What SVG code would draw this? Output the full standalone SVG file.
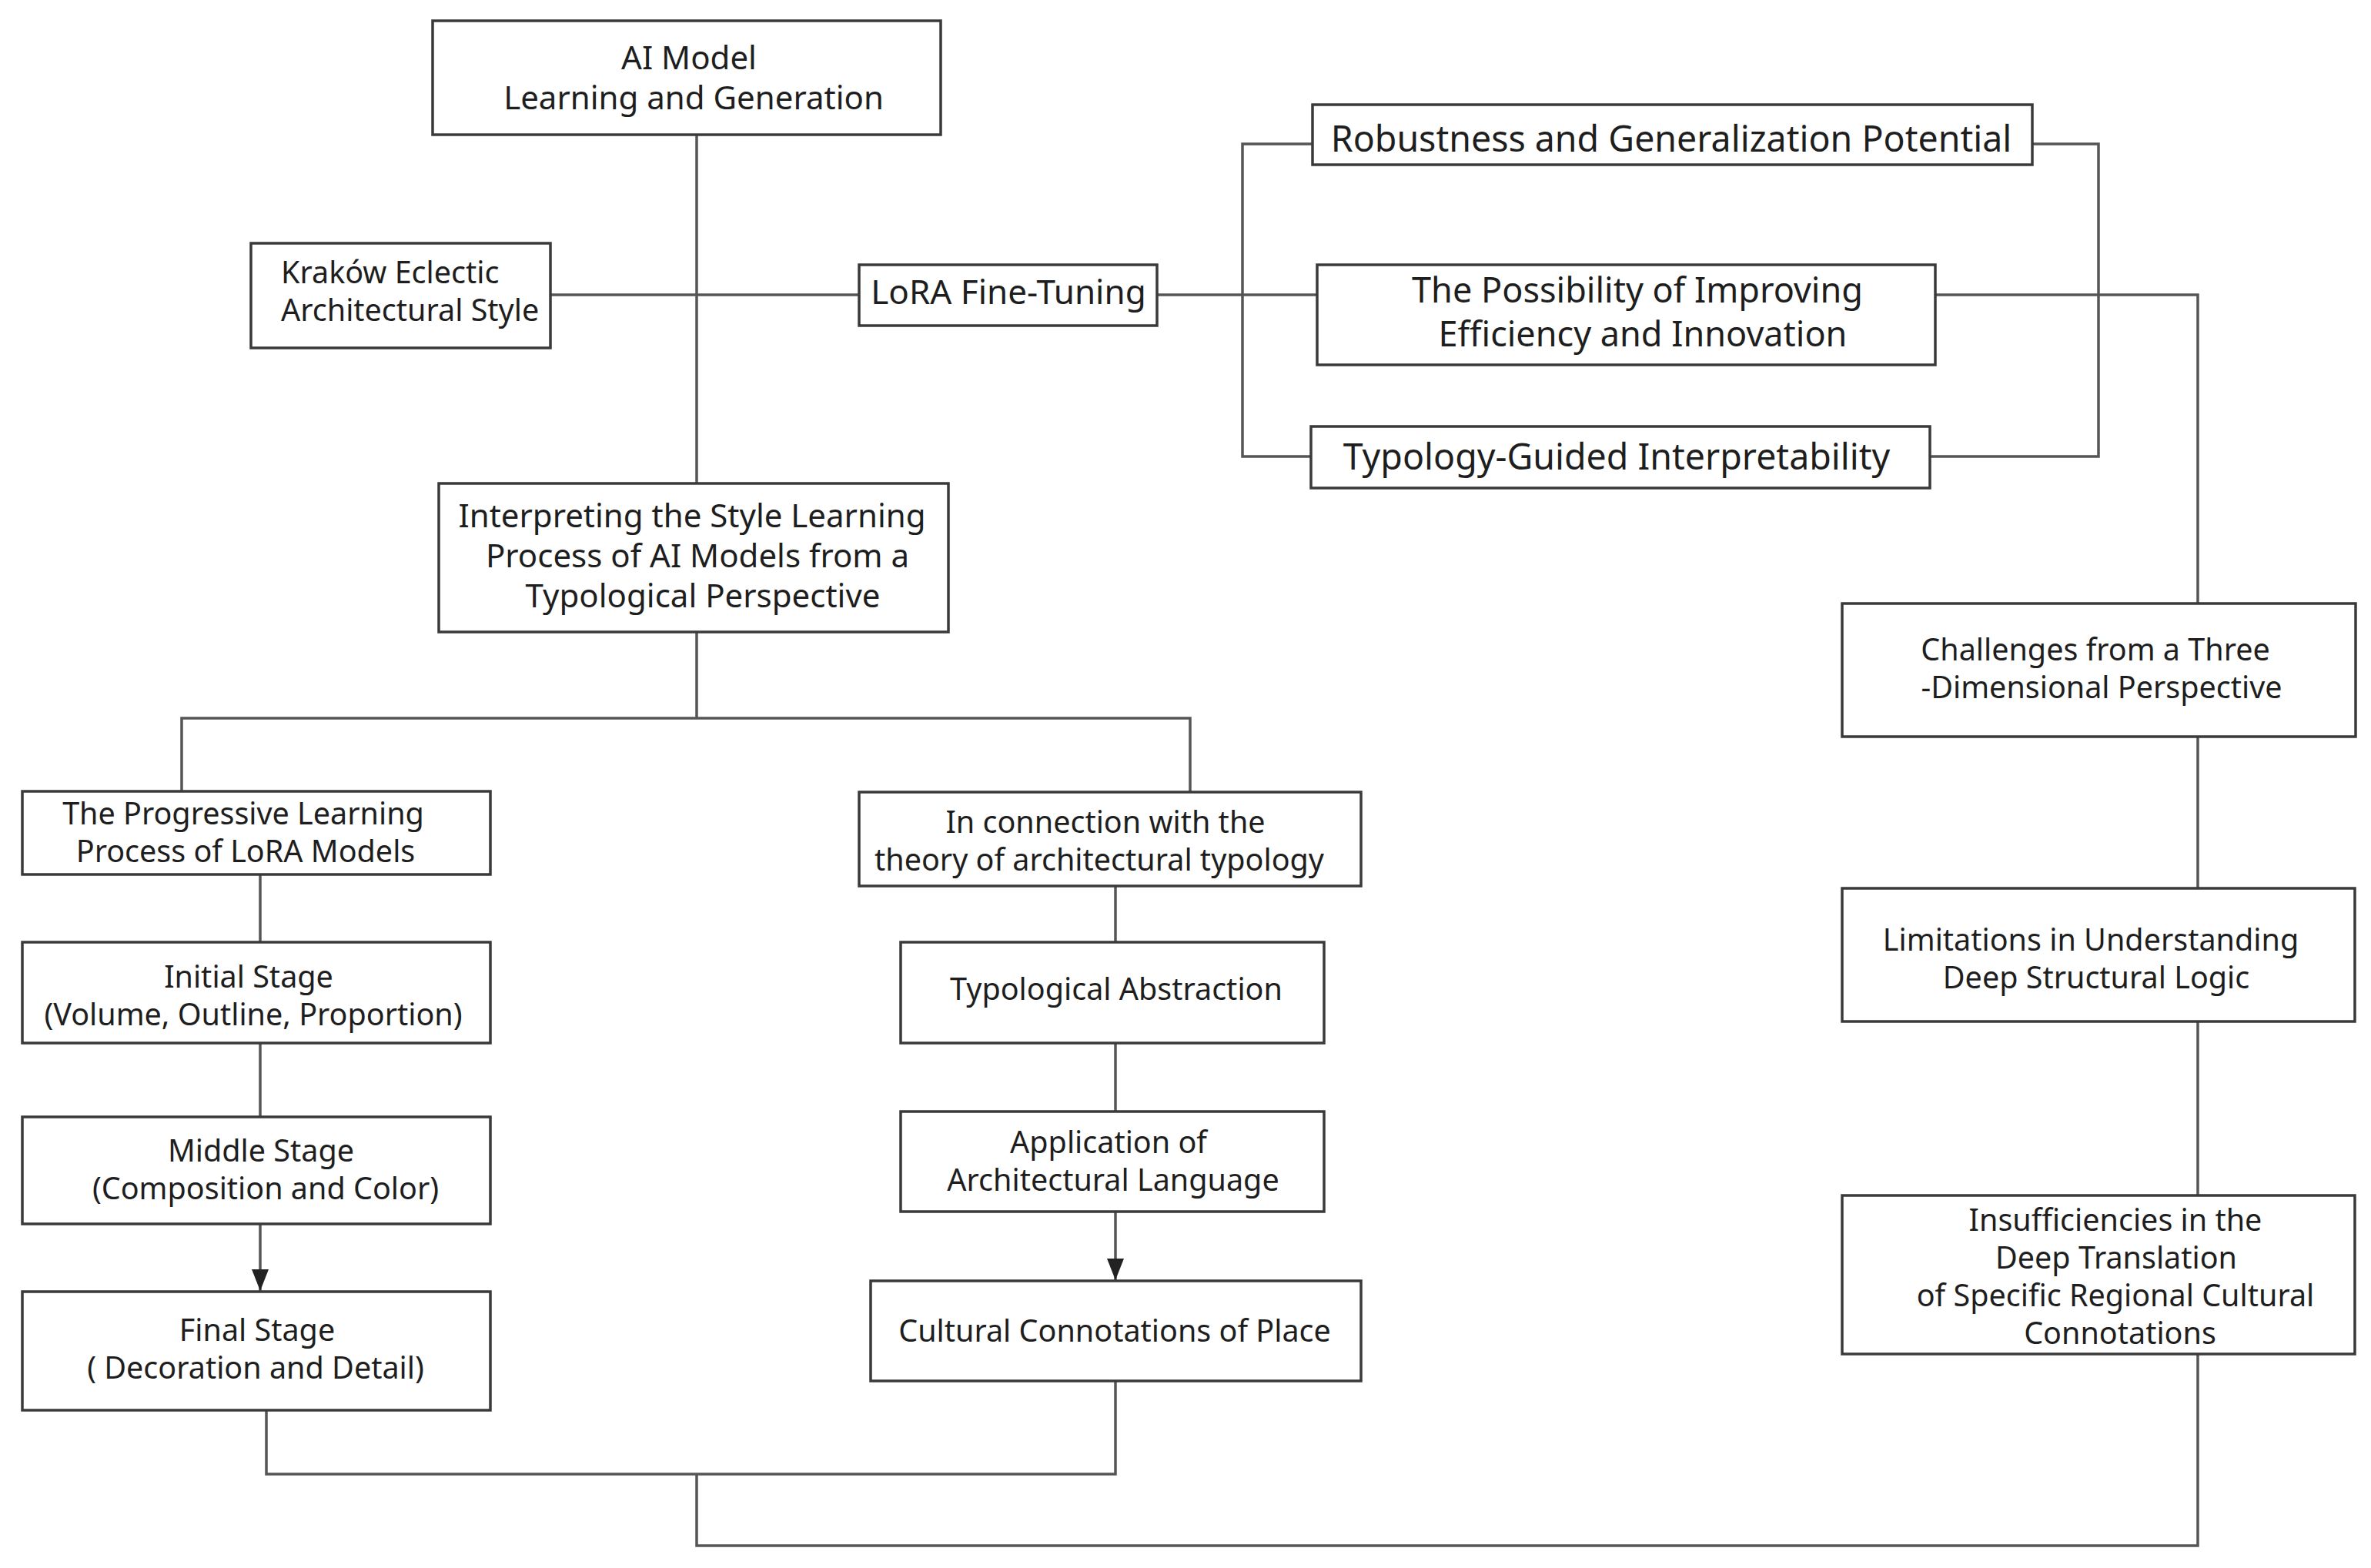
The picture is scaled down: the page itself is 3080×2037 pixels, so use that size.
<svg xmlns="http://www.w3.org/2000/svg" width="3080" height="2037" viewBox="0 0 3080 2037">
<style>
.box{fill:#fff;stroke:#3a3a3a;stroke-width:3.5}
.ln{fill:none;stroke:#555;stroke-width:3.5}
text{font-family:"Noto Sans","Open Sans","Liberation Sans",sans-serif;fill:#1e1e1e;text-anchor:middle}
.xl{font-size:46.5px}
.xm{font-size:45px}
.lr{font-size:44px}
.l{font-size:42px}
.s{font-size:39.5px}
</style>
<defs>
<marker id="ah" markerUnits="userSpaceOnUse" markerWidth="32" markerHeight="22" refX="28" refY="11" orient="auto">
<path d="M0,0 L28,11 L0,22 Z" fill="#222"/>
</marker>
</defs>
<rect width="3080" height="2037" fill="#fff"/>
<g id="connectors">
<path class="ln" d="M905 175 V628"/>
<path class="ln" d="M715 383 H1116"/>
<path class="ln" d="M1503 383 H1711"/>
<path class="ln" d="M1705 187 H1614 V593 H1703"/>
<path class="ln" d="M2640 187 H2726 V593 H2507"/>
<path class="ln" d="M2514 383 H2855 V784"/>
<path class="ln" d="M2855 957 V1154"/>
<path class="ln" d="M2855 1327 V1553"/>
<path class="ln" d="M2855 1759 V2008 H905 V1915"/>
<path class="ln" d="M346 1832 V1915 H1449 V1794"/>
<path class="ln" d="M905 821 V933"/>
<path class="ln" d="M236 1028 V933 H1546 V1029"/>
<path class="ln" d="M338 1136 V1224"/>
<path class="ln" d="M338 1355 V1451"/>
<path class="ln" d="M338 1590 V1677" marker-end="url(#ah)"/>
<path class="ln" d="M1449 1151 V1224"/>
<path class="ln" d="M1449 1355 V1444"/>
<path class="ln" d="M1449 1574 V1663" marker-end="url(#ah)"/>
</g>
<g id="n-ai-model"><rect class="box" x="562" y="27" width="660" height="148"/><text class="l" x="895" y="90">AI Model</text><text class="l" x="901" y="142">Learning and Generation</text></g>
<g id="n-krakow"><rect class="box" x="326" y="316" width="389" height="136"/><text class="s" x="365" y="368" style="text-anchor:start">Kraków Eclectic</text><text class="s" x="365" y="417" style="text-anchor:start">Architectural Style</text></g>
<g id="n-lora"><rect class="box" x="1116" y="344" width="387" height="79"/><text class="lr" x="1310" y="395">LoRA Fine-Tuning</text></g>
<g id="n-interpreting"><rect class="box" x="570" y="628" width="662" height="193"/><text class="l" x="899" y="685">Interpreting the Style Learning</text><text class="l" x="906" y="737">Process of AI Models from a</text><text class="l" x="913" y="789">Typological Perspective</text></g>
<g id="n-robustness"><rect class="box" x="1705" y="136" width="935" height="78"/><text class="xl" x="2171" y="197">Robustness and Generalization Potential</text></g>
<g id="n-possibility"><rect class="box" x="1711" y="344" width="803" height="130"/><text class="xm" x="2127" y="393">The Possibility of Improving</text><text class="xm" x="2134" y="450">Efficiency and Innovation</text></g>
<g id="n-typology-guided"><rect class="box" x="1703" y="554" width="804" height="80"/><text class="xl" x="2100" y="610">Typology-Guided Interpretability</text></g>
<g id="n-progressive"><rect class="box" x="29" y="1028" width="608" height="108"/><text class="s" x="316" y="1071">The Progressive Learning</text><text class="s" x="319" y="1120">Process of LoRA Models</text></g>
<g id="n-initial"><rect class="box" x="29" y="1224" width="608" height="131"/><text class="s" x="323" y="1283">Initial Stage</text><text class="s" x="329" y="1332">(Volume, Outline, Proportion)</text></g>
<g id="n-middle"><rect class="box" x="29" y="1451" width="608" height="139"/><text class="s" x="339" y="1509">Middle Stage</text><text class="s" x="345" y="1558">(Composition and Color)</text></g>
<g id="n-final"><rect class="box" x="29" y="1678" width="608" height="154"/><text class="s" x="334" y="1742">Final Stage</text><text class="s" x="332" y="1791">( Decoration and Detail)</text></g>
<g id="n-connection"><rect class="box" x="1116" y="1029" width="652" height="122"/><text class="s" x="1436" y="1082">In connection with the</text><text class="s" x="1428" y="1131">theory of architectural typology</text></g>
<g id="n-abstraction"><rect class="box" x="1170" y="1224" width="550" height="131"/><text class="s" x="1450" y="1299">Typological Abstraction</text></g>
<g id="n-application"><rect class="box" x="1170" y="1444" width="550" height="130"/><text class="s" x="1440" y="1498">Application of</text><text class="s" x="1446" y="1547">Architectural Language</text></g>
<g id="n-cultural"><rect class="box" x="1131" y="1664" width="637" height="130"/><text class="s" x="1448" y="1743">Cultural Connotations of Place</text></g>
<g id="n-challenges"><rect class="box" x="2393" y="784" width="667" height="173"/><text class="s" x="2722" y="858">Challenges from a Three</text><text class="s" x="2730" y="907">-Dimensional Perspective</text></g>
<g id="n-limitations"><rect class="box" x="2393" y="1154" width="666" height="173"/><text class="s" x="2716" y="1235">Limitations in Understanding</text><text class="s" x="2723" y="1284">Deep Structural Logic</text></g>
<g id="n-insufficiencies"><rect class="box" x="2393" y="1553" width="666" height="206"/><text class="s" x="2748" y="1599">Insufficiencies in the</text><text class="s" x="2749" y="1648">Deep Translation</text><text class="s" x="2748" y="1697">of Specific Regional Cultural</text><text class="s" x="2754" y="1746">Connotations</text></g>
</svg>
